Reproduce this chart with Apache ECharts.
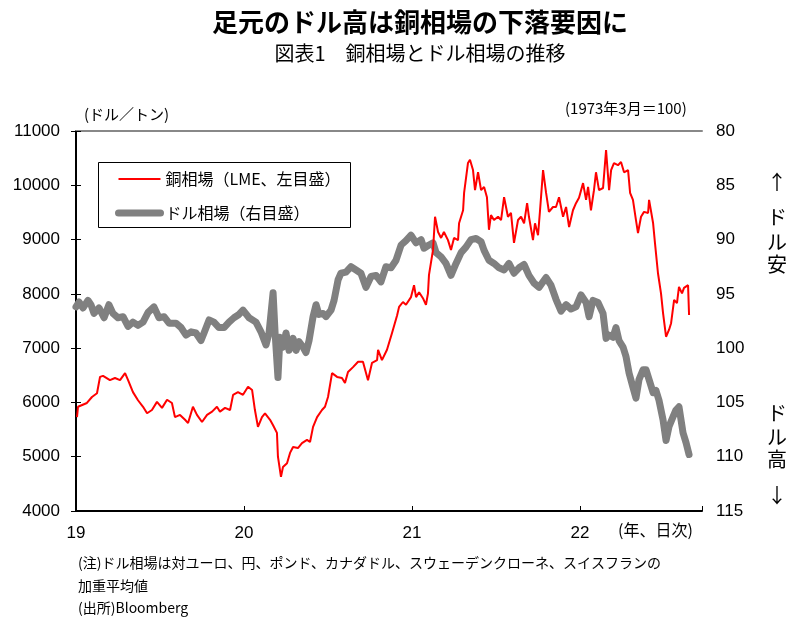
<!DOCTYPE html>
<html>
<head>
<meta charset="utf-8">
<script src="https://cdn.jsdelivr.net/npm/echarts@6/dist/echarts.min.js"></script>
<style>
html,body{margin:0;padding:0;background:#fff;}
#chart{width:800px;height:629px;}
</style>
</head>
<body>
<div id="chart"></div>
<script>
// time in years since 2019-01-01
var copperT = [0.006,0.012,0.065,0.095,0.125,0.143,0.161,0.202,0.232,0.262,0.292,0.310,0.339,0.369,0.399,0.423,0.452,0.482,0.512,0.542,0.571,0.589,0.619,0.649,0.667,0.696,0.720,0.750,0.780,0.810,0.839,0.857,0.887,0.917,0.935,0.964,0.994,
1.024,1.048,1.065,1.083,1.107,1.125,1.155,1.173,1.196,1.202,1.220,1.232,1.256,1.274,1.292,1.321,1.345,1.375,1.393,1.411,1.435,1.464,1.482,1.500,1.524,1.554,1.583,1.601,1.619,1.649,1.679,1.708,1.738,1.762,1.792,1.798,1.821,1.851,1.881,1.911,1.923,1.946,1.964,1.994,
2.012,2.024,2.042,2.065,2.083,2.095,2.101,2.125,2.137,2.155,2.173,2.190,2.214,2.232,2.250,2.274,2.280,2.304,2.310,2.333,2.345,2.363,2.375,2.393,2.411,2.429,2.446,2.458,2.470,2.488,2.512,2.530,2.548,2.571,2.589,2.607,2.631,2.649,2.667,2.685,2.696,2.720,2.732,2.750,2.762,2.780,2.798,2.815,2.839,2.857,2.875,2.899,2.917,2.935,2.958,2.976,2.994,
3.018,3.036,3.048,3.065,3.083,3.095,3.113,3.137,3.155,3.173,3.185,3.202,3.226,3.244,3.262,3.286,3.298,3.315,3.333,3.345,3.363,3.381,3.405,3.411,3.435,3.446,3.464,3.482,3.494,3.512,3.530,3.542,3.560,3.577,3.589,3.607,3.619,3.643,3.649];
// copper, USD per tonne
var copperV = [5730,5920,5990,6100,6170,6470,6490,6410,6450,6410,6540,6410,6190,6040,5920,5800,5860,6010,5900,6050,5990,5730,5770,5680,5620,5920,5770,5640,5770,5830,5920,5830,5900,5860,6140,6190,6140,
6290,6230,5860,5550,5730,5800,5680,5580,5440,5000,4630,4810,4880,5070,5180,5160,5250,5310,5270,5550,5730,5860,5920,6100,6540,6470,6450,6360,6560,6650,6750,6750,6410,6730,6780,6970,6780,6970,7280,7600,7760,7850,7800,7940,
8160,7940,8030,7920,7800,8010,8350,8810,9420,9140,9030,9140,8990,8810,9030,8990,9300,9540,9860,10410,10470,10280,9910,10240,9910,9970,9780,9180,9450,9360,9420,9360,9780,9420,9490,8940,9360,9420,9300,9670,9420,8990,9300,9080,9540,10280,9860,9510,9600,9600,9780,9420,9600,9230,9540,9670,9770,
10040,9730,9970,9540,9910,10240,9910,9950,10650,9910,10280,10410,10370,10430,10240,10280,9860,9730,9360,9120,9420,9510,9490,9730,9300,8940,8380,8010,7650,7210,7340,7460,7890,7830,8130,8010,8110,8160,7610];

var dollarT = [0,0.018,0.042,0.071,0.089,0.107,0.137,0.167,0.196,0.220,0.250,0.280,0.310,0.339,0.369,0.399,0.429,0.464,0.494,0.524,0.554,0.595,0.625,0.655,0.685,0.714,0.744,0.762,0.792,0.821,0.851,0.881,0.911,0.940,0.970,0.994,
1.030,1.071,1.101,1.131,1.149,1.173,1.185,1.202,1.214,1.232,1.250,1.268,1.292,1.310,1.327,1.351,1.369,1.387,1.411,1.429,1.446,1.470,1.488,1.518,1.536,1.560,1.577,1.607,1.637,1.667,1.696,1.726,1.756,1.786,1.815,1.845,1.875,1.905,1.935,1.964,1.994,
2.024,2.054,2.071,2.101,2.125,2.143,2.173,2.202,2.232,2.262,2.292,2.321,2.351,2.381,2.411,2.429,2.458,2.488,2.518,2.548,2.577,2.607,2.637,2.667,2.696,2.726,2.756,2.798,2.827,2.857,2.887,2.917,2.946,2.976,
3.006,3.036,3.054,3.077,3.107,3.137,3.155,3.173,3.196,3.214,3.232,3.256,3.274,3.292,3.315,3.333,3.351,3.375,3.393,3.411,3.435,3.452,3.470,3.494,3.512,3.530,3.554,3.571,3.589,3.613,3.631,3.649];
// dollar index, March 1973 = 100
var dollarV = [96.2,95.75,96.3,95.6,96.0,96.8,96.3,97.2,96.0,96.8,97.2,97.1,98.0,97.6,97.9,97.6,96.7,96.2,97.2,97.1,97.7,97.7,98.1,98.8,98.5,98.6,99.3,98.6,97.4,97.6,98.1,98.1,97.6,97.2,96.9,96.5,
97.2,97.6,98.5,99.7,98.6,94.9,98.6,102.7,99.0,99.9,98.6,100.2,99.1,100.2,99.4,99.9,100.4,99.3,97.1,96.0,96.9,96.8,97.1,96.5,95.6,93.7,93.1,93.0,92.5,92.8,93.1,94.4,93.4,93.3,93.9,92.5,92.6,91.9,90.5,90.1,89.6,
90.3,90.0,90.8,90.5,90.3,91.2,91.6,92.2,93.3,92.2,91.2,90.7,90.0,89.9,90.2,91.0,91.9,92.2,92.6,92.8,92.2,93.1,92.6,92.3,93.3,94.0,94.4,93.5,94.2,95.5,96.6,96.0,96.4,96.2,
95.1,95.8,97.1,95.6,95.8,96.8,99.1,98.8,99.0,98.1,99.3,99.9,100.8,102.3,103.6,104.6,102.9,102.0,102.0,102.9,104.1,103.9,104.8,106.6,108.5,107.2,106.3,105.7,105.4,107.8,108.7,109.8];

var xTickLabels = ['19','20','21','22'];
var seriesNames = ['銅相場（LME、左目盛）','ドル相場（右目盛）'];

function zip(t, v){ return t.map(function(x,i){ return [x, v[i]]; }); }

var numFont = "'Liberation Sans', Arial, sans-serif";
var jpFont = "'Noto Sans CJK JP', sans-serif";

var chart = echarts.init(document.getElementById('chart'), null, {renderer:'canvas'});
chart.setOption({
  animation: false,
  backgroundColor: '#fff',
  textStyle: {fontFamily: jpFont, color: '#000'},
  title: [
    {text: '足元のドル高は銅相場の下落要因に', left: 415, top: 4, textAlign: 'center',
     textStyle: {fontSize: 26, fontWeight: 'bold', color: '#000', fontFamily: jpFont}},
    {text: '図表1　銅相場とドル相場の推移', left: 415, top: 38, textAlign: 'center',
     textStyle: {fontSize: 20, fontWeight: 'normal', color: '#000', fontFamily: jpFont}}
  ],
  grid: {left: 76, right: 98, top: 131, bottom: 118, containLabel: false},
  legend: {
    orient: 'vertical', left: 115, top: 171, itemWidth: 42, itemHeight: 14, itemGap: 18,
    padding: 0,
    textStyle: {fontSize: 16, color: '#000', fontFamily: jpFont},
    data: [
      {name: seriesNames[0], lineStyle: {width: 2, color: '#ff0000'}, itemStyle: {opacity: 0}},
      {name: seriesNames[1], lineStyle: {width: 7, color: '#808080', cap: 'round'}, itemStyle: {opacity: 0}}
    ]
  },
  xAxis: [
    {type: 'value', min: 0, max: 3.726, interval: 1, position: 'bottom',
     axisLine: {show: true, lineStyle: {color: '#000', width: 2}},
     axisTick: {show: true, inside: true, length: 5, lineStyle: {color: '#000', width: 1}},
     axisLabel: {margin: 14, fontSize: 17, fontFamily: numFont, color: '#000',
       formatter: function(v){ var i = Math.round(v); return Math.abs(v - i) < 1e-6 && xTickLabels[i] ? xTickLabels[i] : ''; }},
     splitLine: {show: false}},
    {type: 'value', min: 0, max: 3.726, position: 'top',
     axisLine: {show: true, onZero: false, lineStyle: {color: '#888', width: 2}},
     axisTick: {show: false}, axisLabel: {show: false}, splitLine: {show: false}}
  ],
  yAxis: [
    {type: 'value', min: 4000, max: 11000, interval: 1000, position: 'left',
     axisLine: {show: true, lineStyle: {color: '#000', width: 2}},
     axisTick: {show: true, inside: true, length: 5, lineStyle: {color: '#000'}},
     axisLabel: {margin: 16, fontSize: 17, fontFamily: numFont, color: '#000', formatter: function(v){ return String(v); }},
     splitLine: {show: false}},
    {type: 'value', min: 80, max: 115, interval: 5, inverse: true, position: 'right',
     axisLine: {show: true, lineStyle: {color: '#000', width: 2}},
     axisTick: {show: true, inside: true, length: 5, lineStyle: {color: '#000'}},
     axisLabel: {margin: 14, fontSize: 17, fontFamily: numFont, color: '#000', formatter: function(v){ return String(v); }},
     splitLine: {show: false}}
  ],
  series: [
    {name: seriesNames[1], type: 'line', yAxisIndex: 1, data: zip(dollarT, dollarV),
     showSymbol: false, symbol: 'none', z: 2,
     lineStyle: {color: '#808080', width: 7, cap: 'round', join: 'round'}, itemStyle: {color: '#808080'}},
    {name: seriesNames[0], type: 'line', yAxisIndex: 0, data: zip(copperT, copperV),
     showSymbol: false, symbol: 'none', z: 3,
     lineStyle: {color: '#ff0000', width: 2}, itemStyle: {color: '#ff0000'}}
  ],
  graphic: [
    {type: 'rect', shape: {x: 98.5, y: 162.5, width: 252, height: 65}, style: {fill: 'transparent', stroke: '#000', lineWidth: 1}, z: 10},
    {type: 'text', x: 84, y: 107, style: {text: '(ドル／トン)', font: '15px ' + jpFont, fill: '#000'}},
    {type: 'text', x: 565, y: 101, style: {text: '(1973年3月＝100)', font: '15px ' + jpFont, fill: '#000'}},
    {type: 'text', x: 618, y: 522, style: {text: '(年、日次)', font: '16px ' + jpFont, fill: '#000'}},
    {type: 'text', x: 777, y: 182, style: {text: '↑', font: '20px ' + jpFont, fill: '#000', align: 'center', verticalAlign: 'middle'}},
    {type: 'text', x: 777, y: 217, style: {text: 'ド', font: '20px ' + jpFont, fill: '#000', align: 'center', verticalAlign: 'middle'}},
    {type: 'text', x: 777, y: 242, style: {text: 'ル', font: '20px ' + jpFont, fill: '#000', align: 'center', verticalAlign: 'middle'}},
    {type: 'text', x: 777, y: 264, style: {text: '安', font: '20px ' + jpFont, fill: '#000', align: 'center', verticalAlign: 'middle'}},
    {type: 'text', x: 777, y: 413, style: {text: 'ド', font: '20px ' + jpFont, fill: '#000', align: 'center', verticalAlign: 'middle'}},
    {type: 'text', x: 777, y: 437, style: {text: 'ル', font: '20px ' + jpFont, fill: '#000', align: 'center', verticalAlign: 'middle'}},
    {type: 'text', x: 777, y: 459, style: {text: '高', font: '20px ' + jpFont, fill: '#000', align: 'center', verticalAlign: 'middle'}},
    {type: 'text', x: 777, y: 495, style: {text: '↓', font: '20px ' + jpFont, fill: '#000', align: 'center', verticalAlign: 'middle'}},
    {type: 'text', x: 78, y: 556, style: {text: '(注)ドル相場は対ユーロ、円、ポンド、カナダドル、スウェーデンクローネ、スイスフランの', font: '14px ' + jpFont, fill: '#000'}},
    {type: 'text', x: 78, y: 579, style: {text: '加重平均値', font: '14px ' + jpFont, fill: '#000'}},
    {type: 'text', x: 78, y: 601, style: {text: '(出所)Bloomberg', font: '14px ' + jpFont, fill: '#000'}}
  ]
});
</script>
</body>
</html>
